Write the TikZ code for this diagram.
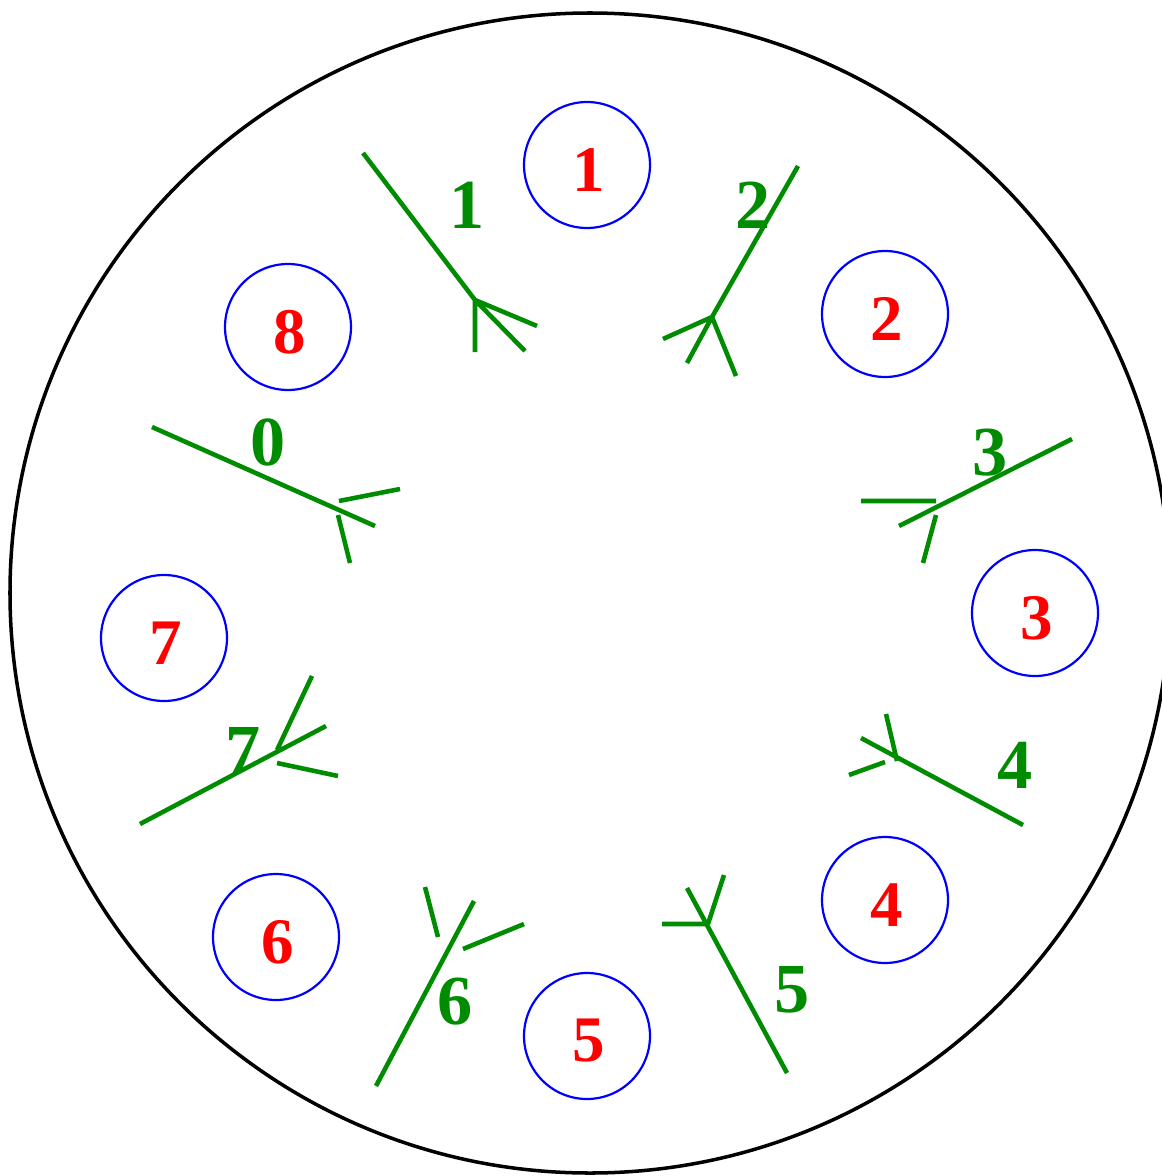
\documentclass[tikz,border=0pt]{standalone}
\usepackage{fontspec}
\setmainfont{Liberation Serif}
\usetikzlibrary{positioning}
\definecolor{wire}{rgb}{0,0.55,0}
\tikzset{rim/.style={draw=black,line width=2pt},
 site/.style={circle,draw=blue,line width=1.25pt,minimum size=2.52cm,inner sep=0pt},
 num/.style={text=red,inner sep=0pt,font=\fontsize{37}{37}\selectfont\bfseries},
 leg/.style={draw=wire,line width=2.6pt},
 tag/.style={text=wire,inner sep=0pt,font=\fontsize{40}{40}\selectfont\bfseries}}

\begin{document}
\begin{tikzpicture}[x=0.02cm,y=-0.02cm]
\useasboundingbox (0,0) rectangle (1162,1176);
\draw[rim] (590,593) circle[radius=580];
% sites
\foreach \p/\n in {{(587,165)}/1,{(885,314)}/2,{(1035,613)}/3,{(885,900)}/4,{(587,1036)}/5,{(276,937)}/6,{(164,638)}/7,{(288,327)}/8}{
 \node[site] (s\n) at \p {};
 \path \p ++(2,5) node[num] (n\n) {\n};
}
% legs
\draw[leg] (363,153)--(475,300) (475,300)--(475,352) (475,300)--(525,351) (475,300)--(537,326);
\draw[leg] (798,166)--(712,317) (712,317)--(663,339) (712,317)--(687,363) (712,317)--(736,376);
\draw[leg] (152,427)--(375,526) (339,501)--(400,489) (338,515)--(350,563);
\draw[leg] (1072,439)--(899,526) (861,501)--(936,501) (936,515)--(923,563);
\draw[leg] (861,738)--(1023,825) (886,714)--(897,761) (885,762)--(849,775);
\draw[leg] (687,888)--(787,1073) (662,924)--(708,924) (708,924)--(724,875);
\draw[leg] (474,901)--(376,1086) (425,887)--(438,937) (463,949)--(524,924);
\draw[leg] (140,824)--(326,726) (312,676)--(277,750) (277,763)--(338,776);
% leg labels
\node[tag] (t0) at (268,442) {0};
\node[tag] (t1) at (467,205) {1};
\node[tag] (t2) at (753,205) {2};
\node[tag] (t3) at (990,453) {3};
\node[tag] (t4) at (1015,765) {4};
\node[tag] (t5) at (792,990) {5};
\node[tag] (t6) at (455,1002) {6};
\node[tag] (t7) at (243,750) {7};
\end{tikzpicture}
\end{document}
